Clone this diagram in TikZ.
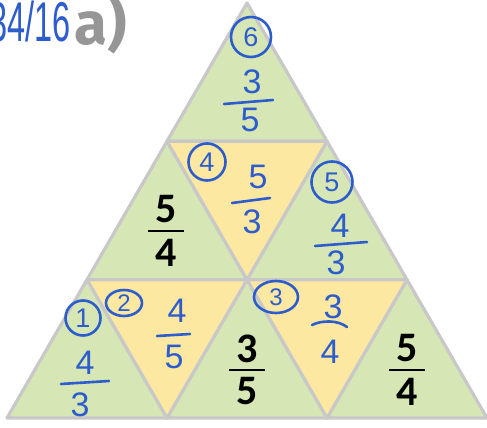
\documentclass[tikz,border=0pt]{standalone}
\usepackage{fontspec}
\usepackage{graphicx}
\setmainfont{Carlito}
\newfontfamily\handfont{Liberation Sans}
\newfontfamily\labfont{Fira Sans}
\usetikzlibrary{shapes.geometric}
\definecolor{tgreen}{RGB}{214,231,181}
\definecolor{tyellow}{RGB}{253,232,162}
\definecolor{tline}{RGB}{200,200,200}
\definecolor{hblue}{RGB}{45,92,205}
\definecolor{lgray}{RGB}{150,150,150}
\tikzset{
  gtri/.style={fill=tgreen, draw=tline, line width=3.2pt, line join=round},
  ytri/.style={fill=tyellow, draw=tline, line width=3.2pt, line join=round},
  hnum/.style={text=hblue, inner sep=0pt, font=\handfont\fontsize{34}{34}\selectfont},
  hbar/.style={draw=hblue, line width=2.6pt, line cap=round},
  hcirc/.style={circle, draw=hblue, line width=2.6pt, inner sep=0pt, text=hblue, font=\handfont\fontsize{27}{27}\selectfont},
  hell/.style={ellipse, draw=hblue, line width=2.6pt, inner sep=0pt, text=hblue, font=\handfont\fontsize{24}{24}\selectfont},
  pnum/.style={text=black, inner sep=0pt, font=\bfseries\fontsize{42}{42}\selectfont},
  pbar/.style={draw=black, line width=2.8pt}
}
\begin{document}
\begin{tikzpicture}[x=1pt,y=-1pt]
\useasboundingbox (0,0) rectangle (487,428);
\clip (0,0) rectangle (487,428);
\fill[white] (0,0) rectangle (487,428);
% vertices
\coordinate (A) at (247,3);
\coordinate (B1) at (167,141.3);
\coordinate (B2) at (327,141.3);
\coordinate (C1) at (87,279.7);
\coordinate (C2) at (247,279.7);
\coordinate (C3) at (407,279.7);
\coordinate (D1) at (7,418);
\coordinate (D2) at (167,418);
\coordinate (D3) at (327,418);
\coordinate (D4) at (487,418);
% triangles
\draw[gtri] (A) -- (B1) -- (B2) -- cycle;
\draw[gtri] (B1) -- (C1) -- (C2) -- cycle;
\draw[gtri] (B2) -- (C2) -- (C3) -- cycle;
\draw[gtri] (C1) -- (D1) -- (D2) -- cycle;
\draw[gtri] (C2) -- (D2) -- (D3) -- cycle;
\draw[gtri] (C3) -- (D3) -- (D4) -- cycle;
\draw[ytri] (B1) -- (B2) -- (C2) -- cycle;
\draw[ytri] (C1) -- (C2) -- (D2) -- cycle;
\draw[ytri] (C2) -- (C3) -- (D3) -- cycle;
% title
\node[anchor=base east, inner sep=0pt, text=hblue, font=\handfont\fontsize{56}{56}\selectfont] (ex) at (71,42) {\scalebox{0.58}[1]{34/16}};
\node[anchor=base west, inner sep=0pt, text=lgray, font=\labfont\bfseries\fontsize{60}{60}\selectfont] (lab) at (74,45) {a)};
% printed fractions
\node[pnum] (p1n) at (166,209.5) {5};
\node[pnum] (p1d) at (166,252.5) {4};
\coordinate (p1a) at (148,231); \coordinate (p1b) at (184,231);
\draw[pbar] (p1a) -- (p1b);
\node[pnum] (p2n) at (247,348.5) {3};
\node[pnum] (p2d) at (247,391.5) {5};
\coordinate (p2a) at (229,370); \coordinate (p2b) at (265,370);
\draw[pbar] (p2a) -- (p2b);
\node[pnum] (p3n) at (407,348.5) {5};
\node[pnum] (p3d) at (407,391.5) {4};
\coordinate (p3a) at (389,370); \coordinate (p3b) at (425,370);
\draw[pbar] (p3a) -- (p3b);
% circled numbers
\node[hcirc, minimum size=40pt] (c6) at (251,37) {6};
\node[hcirc, minimum size=37pt] (c4) at (207,162) {4};
\node[hcirc, minimum size=41pt] (c5) at (332,182) {5};
\node[hcirc, minimum size=35pt] (c1) at (83,318) {1};
\node[hell, minimum width=36pt, minimum height=26pt] (c2) at (124,303) {2};
\node[hell, minimum width=44pt, minimum height=32pt] (c3) at (276,297) {3};
% handwritten fractions
\node[hnum] (h6n) at (252,82) {3};
\node[hnum] (h6d) at (250,120) {5};
\coordinate (h6a) at (224,104); \coordinate (h6b) at (273,100);
\draw[hbar] (h6a) -- (h6b);
\node[hnum] (h4n) at (258,177) {5};
\node[hnum] (h4d) at (252,222) {3};
\coordinate (h4a) at (232,203); \coordinate (h4b) at (270,198);
\draw[hbar] (h4a) -- (h4b);
\node[hnum] (h5n) at (340,226) {4};
\node[hnum] (h5d) at (336,263) {3};
\coordinate (h5a) at (315,246); \coordinate (h5b) at (367,242);
\draw[hbar] (h5a) -- (h5b);
\node[hnum] (h1n) at (85,363) {4};
\node[hnum] (h1d) at (80,405) {3};
\coordinate (h1a) at (61,384); \coordinate (h1b) at (109,381);
\draw[hbar] (h1a) -- (h1b);
\node[hnum] (h2n) at (177,311) {4};
\node[hnum] (h2d) at (174,357) {5};
\coordinate (h2a) at (157,336); \coordinate (h2b) at (190,334);
\draw[hbar] (h2a) -- (h2b);
\node[hnum] (h3n) at (333,307) {3};
\node[hnum] (h3d) at (330,352) {4};
\coordinate (h3a) at (312,325); \coordinate (h3b) at (347,327);
\draw[hbar] (h3a) .. controls (322,320) and (338,320) .. (h3b);
\end{tikzpicture}
\end{document}
